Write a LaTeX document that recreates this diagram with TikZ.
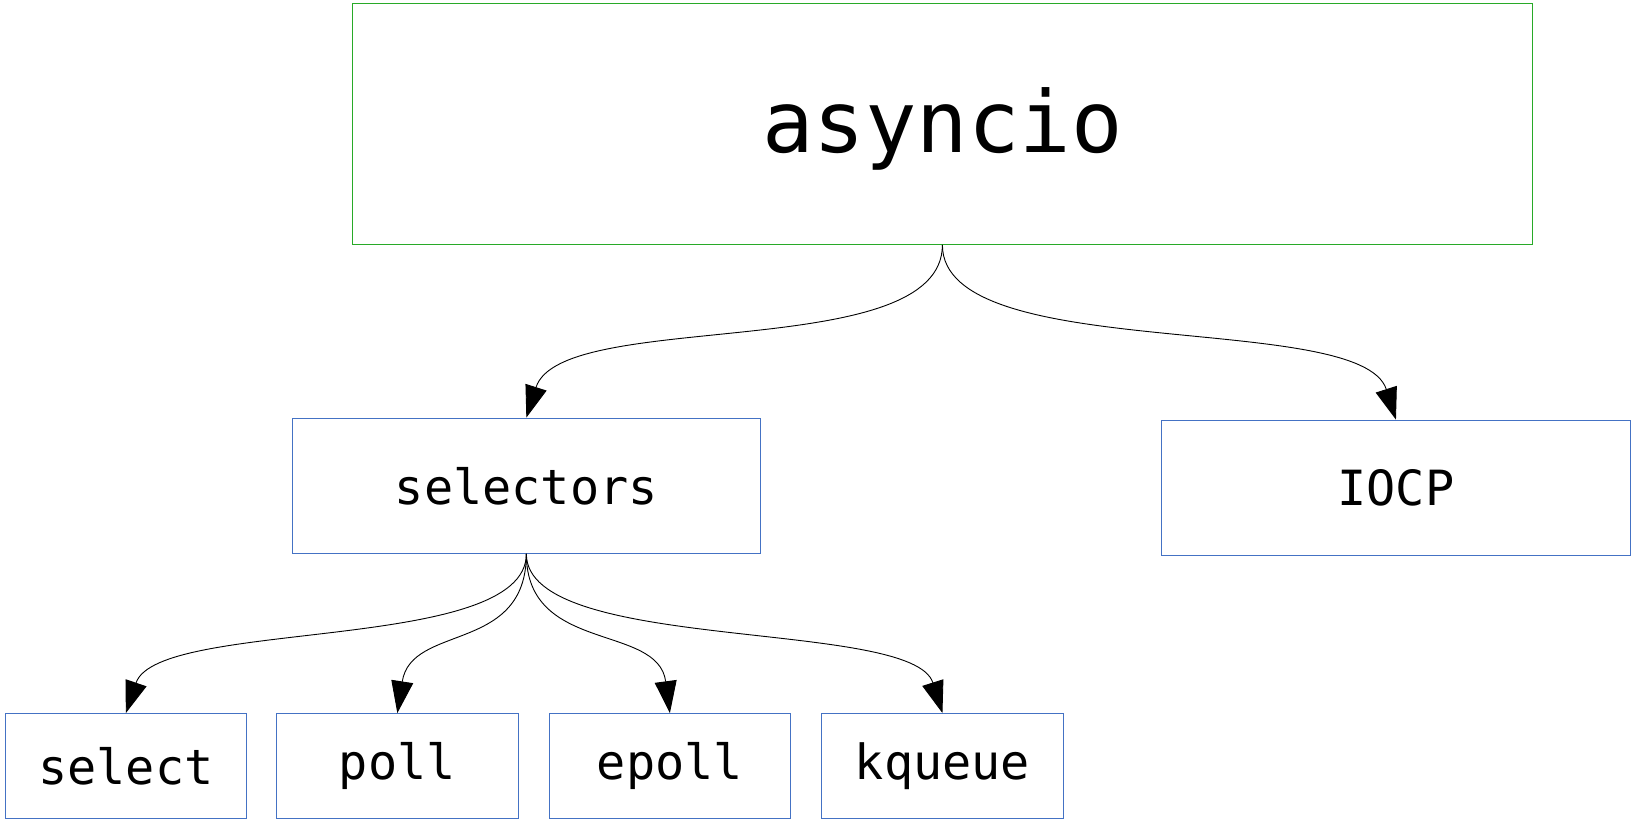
\documentclass[tikz,border=0pt]{standalone}
\usepackage{fontspec}
\setmonofont{DejaVu Sans Mono}
\usetikzlibrary{arrows.meta}
\definecolor{topgreen}{RGB}{40,170,40}
\definecolor{boxblue}{RGB}{68,114,196}
\tikzset{
  box/.style={draw=boxblue, line width=1pt, rectangle, inner sep=0pt,
    font=\ttfamily\fontsize{48.5}{52}\selectfont},
  topbox/.style={draw=topgreen, line width=1pt, rectangle, inner sep=0pt,
    font=\ttfamily\fontsize{85.5}{90}\selectfont},
  arr/.style={draw=black, line width=0.9pt,
    -{Triangle[length=32pt,width=22pt]}},
}
\begin{document}
\begin{tikzpicture}[x=1pt,y=-1pt]
  \useasboundingbox (0,0) rectangle (1631,826);
  % root
  \node[topbox, minimum width=1179.6pt, minimum height=241.3pt] (asyncio) at (942.4,123.8) {\raisebox{-5pt}[\height][\depth]{asyncio}};
  % second level
  \node[box, minimum width=468.1pt, minimum height=135.2pt] (selectors) at (526.35,485.8) {selectors};
  \node[box, minimum width=468.1pt, minimum height=135.2pt] (iocp) at (1395.95,487.8) {IOCP};
  % selector back-ends
  \node[box, minimum width=241.3pt, minimum height=105pt] (select) at (125.85,766.1) {select};
  \node[box, minimum width=241.3pt, minimum height=105pt] (poll) at (397.35,766.1) {poll};
  \node[box, minimum width=241.3pt, minimum height=105pt] (epoll) at (669.9,766.1) {epoll};
  \node[box, minimum width=241.3pt, minimum height=105pt] (kqueue) at (942.45,766.1) {kqueue};
  % edges
  \draw[arr] (asyncio.south) .. controls +(0,120) and +(35,-110) .. (selectors.north);
  \draw[arr] (asyncio.south) .. controls +(0,120) and +(-35,-110) .. (iocp.north);
  \draw[arr] (selectors.south) .. controls +(0,100) and +(32,-95) .. (select.north);
  \draw[arr] (selectors.south) .. controls +(0,100) and +(14,-90) .. (poll.north);
  \draw[arr] (selectors.south) .. controls +(0,100) and +(-12,-90) .. (epoll.north);
  \draw[arr] (selectors.south) .. controls +(0,100) and +(-30,-95) .. (kqueue.north);
\end{tikzpicture}
\end{document}
